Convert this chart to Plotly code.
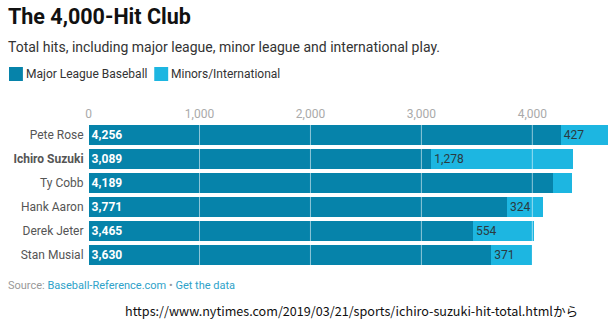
import plotly.graph_objects as go

players = ["Pete Rose", "Ichiro Suzuki", "Ty Cobb", "Hank Aaron", "Derek Jeter", "Stan Musial"]
mlb_hits = [4256, 3089, 4189, 3771, 3465, 3630]
minor_hits = [427, 1278, 166, 324, 554, 371]
x_ticks = [0, 1000, 2000, 3000, 4000]
x_tick_labels = ["0", "1,000", "2,000", "3,000", "4,000"]

MLB_COLOR = "#0683aa"
MINOR_COLOR = "#1db6e1"
FONT = "Roboto"
W, H = 610, 325

def px(x):
    return x / W

def py(y):
    return 1 - y / H

y_labels = [f"<b>{p}</b>" if p == "Ichiro Suzuki" else p for p in players]

mlb_text = [f"<b>{v:,}</b>" for v in mlb_hits]
minor_text = [f"{v:,}" if v >= 250 else "" for v in minor_hits]

fig = go.Figure()
fig.add_trace(go.Bar(
    y=y_labels, x=mlb_hits, orientation="h", name="Major League Baseball",
    marker=dict(color=MLB_COLOR, line=dict(width=0)),
    text=mlb_text, textposition="inside", insidetextanchor="start",
    textfont=dict(family=FONT, size=13, color="white"),
    hoverinfo="x+y",
))
fig.add_trace(go.Bar(
    y=y_labels, x=minor_hits, orientation="h", name="Minors/International",
    marker=dict(color=MINOR_COLOR, line=dict(width=0)),
    text=minor_text, textposition="inside", insidetextanchor="start",
    textfont=dict(family=FONT, size=13, color="#2b3a40"),
    hoverinfo="x+y",
))

shapes = []
for t in x_ticks[1:]:
    shapes.append(dict(type="line", xref="x", yref="y domain", x0=t, x1=t, y0=0, y1=1,
                       line=dict(color="rgba(255,255,255,0.55)", width=1), layer="above"))

# legend swatches
shapes.append(dict(type="rect", xref="paper", yref="paper", x0=px(6), x1=px(20), y0=py(81), y1=py(67),
                   fillcolor=MLB_COLOR, line=dict(width=0)))
shapes.append(dict(type="rect", xref="paper", yref="paper", x0=px(152), x1=px(166), y0=py(81), y1=py(67),
                   fillcolor=MINOR_COLOR, line=dict(width=0)))

annotations = [
    dict(text="<b>The 4,000-Hit Club</b>", x=px(3), y=py(17), xref="paper", yref="paper",
         xanchor="left", yanchor="middle", showarrow=False,
         font=dict(family=FONT, size=21.5, color="#111111")),
    dict(text="Total hits, including major league, minor league and international play.",
         x=px(3), y=py(47), xref="paper", yref="paper", xanchor="left", yanchor="middle",
         showarrow=False, font=dict(family=FONT, size=14, color="#333333")),
    dict(text="Major League Baseball", x=px(21), y=py(74), xref="paper", yref="paper",
         xanchor="left", yanchor="middle", showarrow=False,
         font=dict(family=FONT, size=12, color="#333333")),
    dict(text="Minors/International", x=px(167), y=py(74), xref="paper", yref="paper",
         xanchor="left", yanchor="middle", showarrow=False,
         font=dict(family=FONT, size=12, color="#333333")),
    dict(text="<span style='color:#999999'>Source: </span>Baseball-Reference.com"
              "<span style='color:#999999'> • </span>Get the data",
         x=px(3), y=py(285), xref="paper", yref="paper", xanchor="left", yanchor="middle",
         showarrow=False, font=dict(family=FONT, size=11, color="#2ea2c9")),
    dict(text="https://www.nytimes.com/2019/03/21/sports/ichiro-suzuki-hit-total.htmlから",
         x=px(121), y=py(310), xref="paper", yref="paper", xanchor="left", yanchor="middle",
         showarrow=False, font=dict(family="Noto Sans CJK JP", size=12.6, color="#111111")),
]

fig.update_layout(
    width=W, height=H,
    margin=dict(l=0, r=0, t=0, b=0),
    paper_bgcolor="white", plot_bgcolor="white",
    barmode="stack", bargap=0.17,
    showlegend=False,
    font=dict(family=FONT, size=12, color="#555555"),
    xaxis=dict(domain=[86 / W, 1], range=[0, 4700], side="top",
               tickvals=x_ticks, ticktext=x_tick_labels,
               tickfont=dict(family=FONT, size=12, color="#aaaaaa"),
               showgrid=False, zeroline=False, showline=False, ticks="",
               ticklabelstandoff=2, fixedrange=True),
    yaxis=dict(domain=[1 - 267 / H, 1 - 123 / H], autorange="reversed",
               tickfont=dict(family=FONT, size=12, color="#555555"),
               showgrid=False, zeroline=False, showline=False, ticks="",
               ticklabelstandoff=4, fixedrange=True),
    shapes=shapes,
    annotations=annotations,
    hovermode="closest",
)

fig.write_html("out.html")
